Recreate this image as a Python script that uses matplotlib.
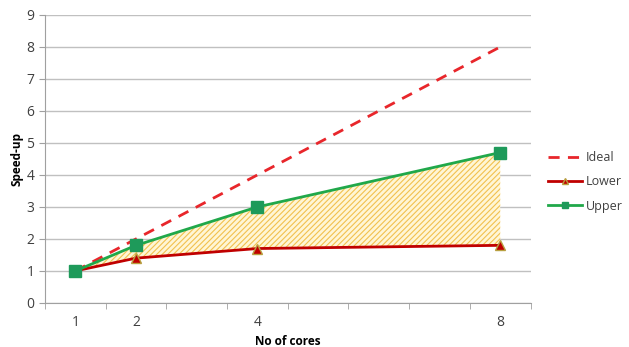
import matplotlib.pyplot as plt

# Данные
cores = [1, 2, 4, 8]
ideal = [1, 2, 4, 8]
lower = [1, 1.4, 1.7, 1.8]
upper = [1, 1.8, 3.0, 4.7]

plt.rcParams['font.family'] = ['Open Sans', 'DejaVu Sans']
plt.rcParams['hatch.color'] = '#f2c14e'
plt.rcParams['hatch.linewidth'] = 0.8

fig = plt.figure(figsize=(6.29, 3.47), dpi=100)
ax = fig.add_axes([0.0715, 0.127, 0.772, 0.83])

ax.fill_between(cores, lower, upper, facecolor='#fff6d5', edgecolor='#f2c14e',
                hatch='//////', linewidth=0, zorder=1)
ax.plot(cores, ideal, linestyle=(0, (4, 3)), color='#e8262b', linewidth=2, label='Ideal', zorder=3)
ax.plot(cores, lower, marker='^', markersize=7, color='#c00000', markerfacecolor='#c00000',
        markeredgecolor='#b8a040', linewidth=2, label='Lower', zorder=4)
ax.plot(cores, upper, marker='s', markersize=8, color='#20a84a', markerfacecolor='#1e9a5a',
        markeredgecolor='#1e9a5a', linewidth=2, label='Upper', zorder=5)

ax.set_xlim(0.5, 8.5)
ax.set_ylim(0, 9)
ax.set_xticks(cores)
ax.set_xticks([0.5 + i for i in range(9)], minor=True)
ax.set_yticks(range(10))
ax.tick_params(axis='x', which='major', length=0, pad=9, labelsize=10, labelcolor='#404040')
ax.tick_params(axis='x', which='minor', length=4, color='#a0a0a0')
ax.tick_params(axis='y', length=4, color='#a0a0a0', labelsize=10, labelcolor='#404040')
ax.yaxis.grid(True, color='#c0c0c0', linewidth=1)
ax.set_axisbelow(True)
for s in ['top', 'right']:
    ax.spines[s].set_visible(False)
for s in ['left', 'bottom']:
    ax.spines[s].set_color('#a0a0a0')

ax.set_xlabel('No of cores', fontsize=8.5, fontweight='bold', labelpad=3)
ax.set_ylabel('Speed-up', fontsize=8.5, fontweight='bold', labelpad=2)

fig.legend(*ax.get_legend_handles_labels(), loc='center left', bbox_to_anchor=(0.872, 0.476),
           frameon=False, fontsize=9, handlelength=2.7, labelspacing=0.9, markerscale=0.6,
           handletextpad=0.3, borderpad=0, borderaxespad=0, labelcolor='#404040')

fig.savefig('out.png', dpi=100)
